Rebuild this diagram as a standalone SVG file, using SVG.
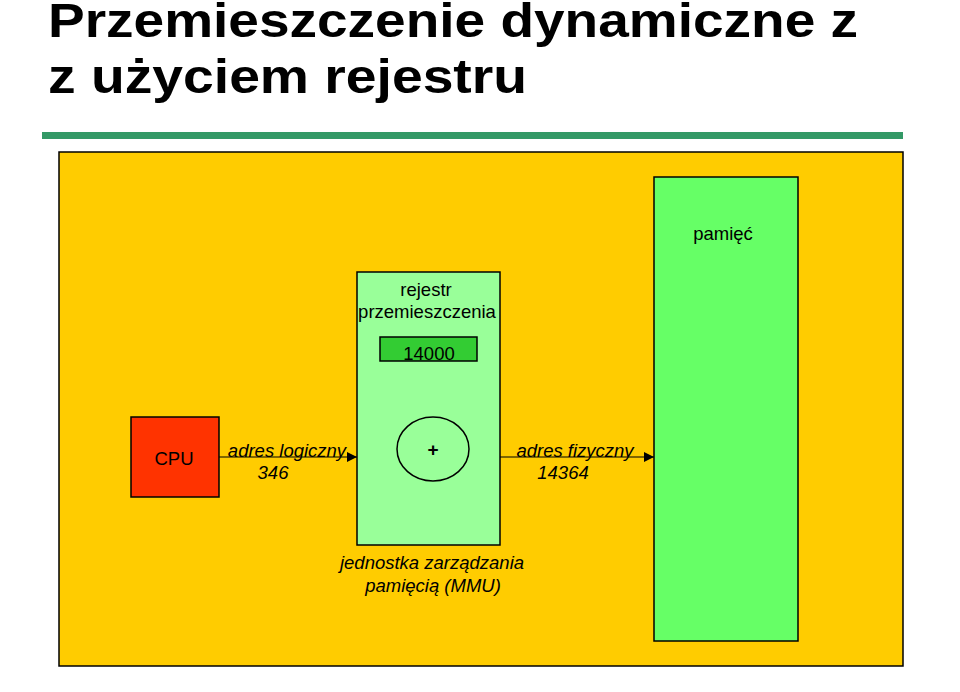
<svg xmlns="http://www.w3.org/2000/svg" width="960" height="692" viewBox="0 0 960 692">
<defs><marker id="a" markerWidth="10" markerHeight="10" refX="10" refY="5" orient="auto" markerUnits="userSpaceOnUse"><path d="M0,0 L10,5 L0,10 z" fill="#000"/></marker></defs>
<style>text{font-family:"Liberation Sans",Arial,sans-serif}.t{font-size:18.5px;text-anchor:middle}.i{font-style:italic}</style>
<rect width="960" height="692" fill="#fff"/>
<text x="48" y="37" font-size="48" font-weight="bold" fill="#000" textLength="810" lengthAdjust="spacingAndGlyphs">Przemieszczenie dynamiczne z</text>
<text x="48" y="93" font-size="48" font-weight="bold" fill="#000" textLength="479" lengthAdjust="spacingAndGlyphs">z użyciem rejestru</text>
<rect x="42" y="132" width="861" height="7" fill="#339966"/>
<rect x="59" y="152" width="844" height="514" fill="#ffcc00" stroke="#000" stroke-width="1.5"/>
<g id="memory"><rect x="654" y="177" width="144" height="464" fill="#66ff66" stroke="#000" stroke-width="1.5"/><text class="t" x="723" y="240">pamięć</text></g>
<g id="mmu"><rect x="357" y="272" width="143" height="273" fill="#99ff99" stroke="#000" stroke-width="1.5"/>
<text class="t" x="426" y="296">rejestr</text><text class="t" x="427" y="318">przemieszczenia</text></g>
<g id="reg"><rect x="380" y="337" width="97" height="24" fill="#33cc33" stroke="#000" stroke-width="1.5"/><text class="t" x="429" y="360">14000</text></g>
<g id="adder"><ellipse cx="433" cy="449" rx="36" ry="32" fill="#99ff99" stroke="#000" stroke-width="1.5"/><text x="433" y="456" font-size="19" font-weight="bold" text-anchor="middle">+</text></g>
<g id="cpu"><rect x="131" y="417" width="88" height="80" fill="#ff3300" stroke="#000" stroke-width="1.5"/><text class="t" x="174" y="465" font-size="20">CPU</text></g>
<g id="connectors" stroke="#000" stroke-width="1.2">
<line x1="219" y1="457" x2="357" y2="457" marker-end="url(#a)"/>
<line x1="500" y1="457" x2="654" y2="457" marker-end="url(#a)"/>
</g>
<text class="t i" x="287" y="457">adres logiczny</text><text class="t i" x="273" y="479">346</text>
<text class="t i" x="575" y="457">adres fizyczny</text><text class="t i" x="563" y="479">14364</text>
<text class="t i" x="432" y="569">jednostka zarządzania</text><text class="t i" x="433" y="592">pamięcią (MMU)</text>
</svg>
